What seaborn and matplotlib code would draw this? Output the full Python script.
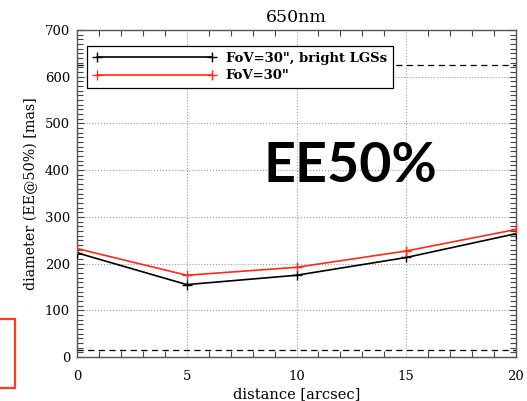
import matplotlib
matplotlib.use("Agg")
import matplotlib.pyplot as plt
from matplotlib.patches import Rectangle
from matplotlib.ticker import MultipleLocator
import seaborn as sns
import pandas as pd

# Encircled-energy (50%) diameter versus field distance at 650 nm
distance = [0, 5, 10, 15, 20]
ee50_bright_lgs = [223, 155, 175, 213, 264]
ee50_fov30 = [232, 175, 192, 227, 273]
series_labels = ['FoV=30", bright LGSs', 'FoV=30"']
series_colors = ["black", "#ff2a1a"]
limit_upper = 625
limit_lower = 14
x_ticks = [0, 5, 10, 15, 20]
y_ticks = [0, 100, 200, 300, 400, 500, 600, 700]

sns.set_theme(style="ticks")
plt.rcParams["font.family"] = ["DejaVu Serif"]
plt.rcParams["text.color"] = "black"
plt.rcParams["axes.labelcolor"] = "black"
plt.rcParams["xtick.color"] = "black"
plt.rcParams["ytick.color"] = "black"

fig = plt.figure(figsize=(5.27, 4.01), dpi=100)
ax = fig.add_axes([77 / 527, 44 / 401, 439 / 527, 327 / 401])

# dashed reference levels
ax.axhline(limit_upper, color="black", lw=0.9, ls=(0, (5, 3.5)), zorder=1)
ax.axhline(limit_lower, color="black", lw=0.9, ls=(0, (5, 3.5)), zorder=1)

for values, label, color in zip([ee50_bright_lgs, ee50_fov30], series_labels, series_colors):
    df = pd.DataFrame({"distance": distance, "diameter": values})
    sns.lineplot(data=df, x="distance", y="diameter", color=color, label=label,
                 marker="+", markersize=6.5, markeredgewidth=1.0,
                 markeredgecolor=color, linewidth=1.2, ax=ax, zorder=3)

ax.set_xlim(0, 20)
ax.set_ylim(0, 700)
ax.set_xticks(x_ticks)
ax.set_yticks(y_ticks)
ax.xaxis.set_minor_locator(MultipleLocator(1))
ax.yaxis.set_minor_locator(MultipleLocator(10))
ax.tick_params(which="both", direction="in", top=True, right=True,
               color="#444444", width=0.8, labelcolor="black")
ax.tick_params(which="major", length=5, labelsize=9.5, pad=5)
ax.tick_params(which="minor", length=4)
ax.tick_params(axis="x", which="major", length=0, pad=9)
ax.grid(True, which="major", ls=":", color="#9a9a9a", lw=0.8)
for sp in ax.spines.values():
    sp.set_color("#555555")
    sp.set_linewidth(1.0)

ax.set_title("650nm", fontsize=12.5, pad=6)
ax.set_xlabel("distance [arcsec]", fontsize=10.5, labelpad=3)
ax.set_ylabel("diameter (EE@50%) [mas]", fontsize=10.3, labelpad=5)

leg = ax.legend(loc="upper left", bbox_to_anchor=(10 / 439, 1 - 16 / 327),
                numpoints=2, handlelength=9.3, fancybox=False,
                edgecolor="black", framealpha=1, borderaxespad=0,
                prop={"weight": "bold", "size": 9.5},
                borderpad=0.45, labelspacing=0.32, handletextpad=0.75)
leg.get_frame().set_linewidth(0.9)
leg.set_zorder(5)

fig.text(264 / 527, (401 - 182) / 401, "EE50%", family="Lato", color="black",
         weight="bold", fontsize=40, va="baseline", ha="left")

fig.patches.append(Rectangle((-0.01, 13 / 401), 0.01 + 15 / 527, 69 / 401,
                             transform=fig.transFigure, fill=False,
                             edgecolor="#ff3b1f", lw=1.6, clip_on=False))

fig.savefig("out.png", dpi=100)
